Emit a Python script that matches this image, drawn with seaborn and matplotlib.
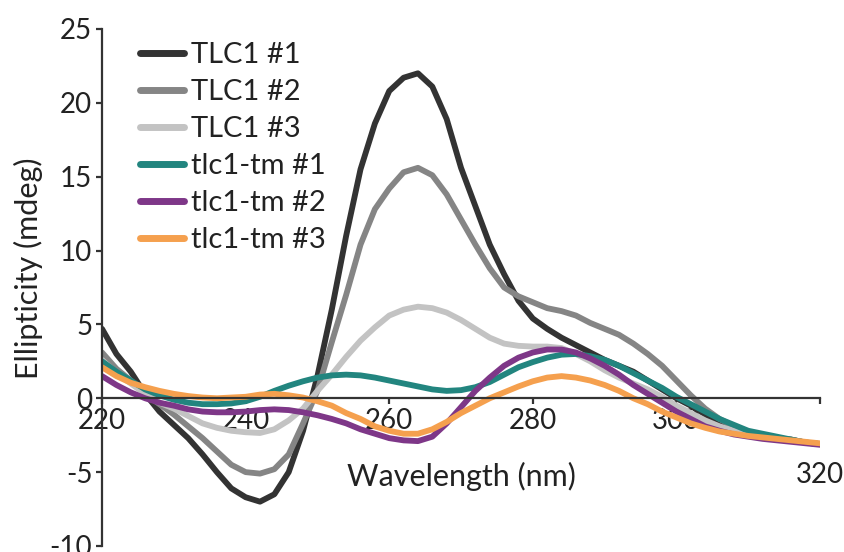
import numpy as np
import pandas as pd
import matplotlib
matplotlib.use("Agg")
from matplotlib import pyplot as plt
import seaborn as sns

wavelength = list(range(220, 321, 2))

tlc1_1 = [4.7, 3.0, 1.8, 0.3, -0.9, -1.8, -2.7, -3.8, -5.0, -6.1, -6.7, -7.0, -6.5, -5.0, -2.2,
          1.5, 6.0, 11.0, 15.5, 18.6, 20.8, 21.7, 22.0, 21.1, 18.9, 15.6, 13.0, 10.4, 8.4, 6.6,
          5.4, 4.7, 4.1, 3.6, 3.1, 2.6, 2.2, 1.8, 1.2, 0.6, 0.0, -0.5, -1.1, -1.6, -2.0, -2.3,
          -2.5, -2.7, -2.8, -3.0, -3.1]
tlc1_2 = [3.1, 2.0, 1.2, 0.3, -0.4, -1.1, -1.9, -2.7, -3.6, -4.5, -5.0, -5.1, -4.8, -3.8, -1.7,
          0.5, 3.8, 7.0, 10.4, 12.8, 14.2, 15.3, 15.6, 15.1, 13.8, 12.1, 10.4, 8.8, 7.5, 6.9,
          6.5, 6.1, 5.9, 5.6, 5.1, 4.7, 4.3, 3.7, 3.0, 2.2, 1.2, 0.2, -0.7, -1.4, -1.9, -2.3,
          -2.5, -2.7, -2.8, -3.0, -3.1]
tlc1_3 = [2.6, 1.7, 1.0, 0.3, -0.3, -0.7, -1.2, -1.7, -2.0, -2.2, -2.3, -2.35, -2.1, -1.5, -0.7,
          0.5, 1.6, 2.8, 3.9, 4.8, 5.6, 6.0, 6.2, 6.1, 5.8, 5.3, 4.7, 4.1, 3.7, 3.55,
          3.5, 3.5, 3.4, 3.0, 2.5, 1.9, 1.4, 1.0, 0.6, 0.1, -0.5, -1.0, -1.5, -1.9, -2.2, -2.4,
          -2.6, -2.75, -2.85, -3.0, -3.1]
tm_1 = [2.5, 1.8, 1.2, 0.6, 0.2, -0.1, -0.3, -0.4, -0.4, -0.35, -0.2, 0.1, 0.5, 0.85, 1.15,
        1.4, 1.55, 1.6, 1.55, 1.4, 1.2, 1.0, 0.8, 0.6, 0.5, 0.55, 0.75, 1.1, 1.6, 2.1,
        2.45, 2.75, 2.95, 3.0, 2.85, 2.6, 2.2, 1.7, 1.2, 0.7, 0.1, -0.4, -0.9, -1.4, -1.8, -2.2,
        -2.4, -2.6, -2.8, -3.0, -3.1]
tm_2 = [1.5, 0.9, 0.4, 0.0, -0.3, -0.5, -0.75, -0.9, -0.95, -0.95, -0.9, -0.8, -0.75, -0.8, -0.95,
        -1.15, -1.4, -1.7, -2.1, -2.4, -2.7, -2.85, -2.9, -2.6, -1.7, -0.6, 0.5, 1.4, 2.2, 2.75,
        3.1, 3.3, 3.3, 3.1, 2.7, 2.2, 1.6, 0.9, 0.3, -0.3, -0.9, -1.4, -1.9, -2.2, -2.45, -2.6,
        -2.75, -2.85, -2.95, -3.05, -3.15]
tm_3 = [2.1, 1.5, 1.05, 0.75, 0.5, 0.3, 0.15, 0.05, 0.0, 0.05, 0.1, 0.25, 0.3, 0.2, 0.05,
        -0.2, -0.5, -1.0, -1.4, -1.9, -2.2, -2.4, -2.4, -2.1, -1.6, -1.0, -0.5, 0.0, 0.4, 0.8,
        1.15, 1.4, 1.5, 1.4, 1.2, 0.9, 0.5, 0.0, -0.4, -0.9, -1.3, -1.7, -2.0, -2.25, -2.4, -2.55,
        -2.65, -2.75, -2.85, -2.95, -3.05]

samples = ["TLC1 #1", "TLC1 #2", "TLC1 #3", "tlc1-tm #1", "tlc1-tm #2", "tlc1-tm #3"]
colors = ["#333333", "#858585", "#c3c3c3", "#22857f", "#7e3788", "#f5a04e"]

frames = []
for name, vals in zip(samples, [tlc1_1, tlc1_2, tlc1_3, tm_1, tm_2, tm_3]):
    frames.append(pd.DataFrame({"wavelength": wavelength, "ellipticity": vals, "sample": name}))
df = pd.concat(frames, ignore_index=True)

sns.set_style("ticks")
plt.rcParams["font.family"] = ["Lato", "DejaVu Sans"]
plt.rcParams["axes.unicode_minus"] = False

fig = plt.figure(figsize=(8.44, 5.52), dpi=100)
ax = fig.add_axes([0.1209, 0.0109, 0.8507, 0.9366])

sns.lineplot(data=df, x="wavelength", y="ellipticity", hue="sample", hue_order=samples,
             palette=colors, linewidth=4.2, ax=ax, legend=True,
             solid_joinstyle="round", solid_capstyle="round")

ax.set_xlim(220, 320)
ax.set_ylim(-10, 25)
ax.set_yticks([-10, -5, 0, 5, 10, 15, 20, 25])
ax.set_xticks([220, 240, 260, 280, 300, 320])
ax.set_xticklabels(["220", "240", "260", "280", "300", ""])
ax.text(320, -5.75, "320", ha="center", va="baseline", fontsize=20, color="#222222", clip_on=False)

ax.spines["top"].set_visible(False)
ax.spines["right"].set_visible(False)
ax.spines["bottom"].set_position(("data", 0))
for s in ["left", "bottom"]:
    ax.spines[s].set_linewidth(1.6)
    ax.spines[s].set_color("#333333")
ax.tick_params(axis="both", direction="out", length=4.5, width=1.6, color="#333333",
               labelsize=20, labelcolor="#222222", pad=2.5)

ax.set_xlabel("Wavelength (nm)", fontsize=22, color="#222222")
ax.xaxis.set_label_coords(0.5, 0.162)
ax.set_ylabel("Ellipticity (mdeg)", fontsize=22, color="#222222")
ax.yaxis.set_label_coords(-0.082, 0.538)

leg = ax.legend(loc="upper left", bbox_to_anchor=(0.053, 0.975), frameon=False, fontsize=21,
                borderpad=0, borderaxespad=0, labelspacing=0.38, handlelength=1.5,
                handletextpad=0.25)
for line in leg.get_lines():
    line.set_linewidth(5)
    line.set_solid_capstyle("round")
for t in leg.get_texts():
    t.set_color("#222222")

fig.savefig("out.png", dpi=100)
